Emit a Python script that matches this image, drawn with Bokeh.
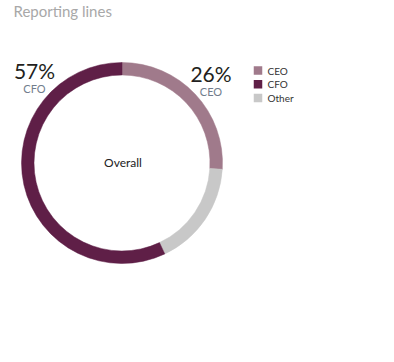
import math
from bokeh.plotting import figure
from bokeh.models import Range1d, ColumnDataSource
from bokeh.core.properties import value
from bokeh.embed import file_html
from bokeh.resources import INLINE

# ---- data ----
title_text = "Reporting lines"
center_label = "Overall"
categories = ["CEO", "CFO", "Other"]
shares = [26, 57, 17]
ring_order = ["CEO", "Other", "CFO"]   # clockwise from 12 o'clock
callouts = ["CFO", "CEO"]

colors = {"CEO": "#A07A8B", "CFO": "#5F1F47", "Other": "#C8C8C8"}

W, H = 378, 346
p = figure(width=W, height=H, output_backend="svg", toolbar_location=None,
           x_range=Range1d(0, W), y_range=Range1d(0, H),
           x_axis_location=None, y_axis_location=None, min_border=0)
p.grid.visible = False
p.outline_line_color = None
p.background_fill_color = "white"
p.border_fill_color = "white"

FONT = value("Lato")

# donut
cx, cy = 121.5, 183.5
r_in, r_out = 88, 100.5
share_of = dict(zip(categories, shares))
total = sum(shares)
starts, ends, cols = [], [], []
acc = 0.0
for c in ring_order:
    f0 = acc / total
    acc += share_of[c]
    f1 = acc / total
    starts.append(math.pi / 2 - 2 * math.pi * f0)
    ends.append(math.pi / 2 - 2 * math.pi * f1)
    cols.append(colors[c])
src = ColumnDataSource(dict(x=[cx] * len(ring_order), y=[cy] * len(ring_order),
                            s=starts, e=ends, c=cols))
p.annular_wedge(x="x", y="y", inner_radius=r_in, outer_radius=r_out,
                start_angle="s", end_angle="e", direction="clock",
                fill_color="c", line_color="c", line_width=0.5, source=src)

# title
p.text(x=[13], y=[336], text=[title_text], text_font=FONT,
       text_font_size="15px", text_color="#A8A8A8",
       text_baseline="middle", text_align="left")

# center label
p.text(x=[cx + 1], y=[cy + 0.5], text=[center_label], text_font=FONT,
       text_font_size="12px", text_color="#222222",
       text_baseline="middle", text_align="center")

# callouts
callout_pos = {"CFO": (34, 276.5), "CEO": (210.5, 273)}
for c in callouts:
    x, y = callout_pos[c]
    p.text(x=[x], y=[y], text=[f"{share_of[c]}%"], text_font=FONT,
           text_font_size="21px", text_color="#231F20",
           text_baseline="middle", text_align="center")
    p.text(x=[x], y=[y - 18], text=[c], text_font=FONT,
           text_font_size="11px", text_color="#717D8C",
           text_baseline="middle", text_align="center")

# legend
lx, ly0, step = 257.5, 276, 13.7
leg = ColumnDataSource(dict(
    x=[lx] * len(categories),
    y=[ly0 - i * step for i in range(len(categories))],
    tx=[lx + 9.5] * len(categories),
    t=categories,
    c=[colors[c] for c in categories]))
p.rect(x="x", y="y", width=8.5, height=8.5, fill_color="c", line_color=None, source=leg)
p.text(x="tx", y="y", text="t", text_font=FONT, text_font_size="10px",
       text_color="#333333", text_baseline="middle", text_align="left", source=leg)

open("out.html", "w").write(file_html(p, INLINE))
